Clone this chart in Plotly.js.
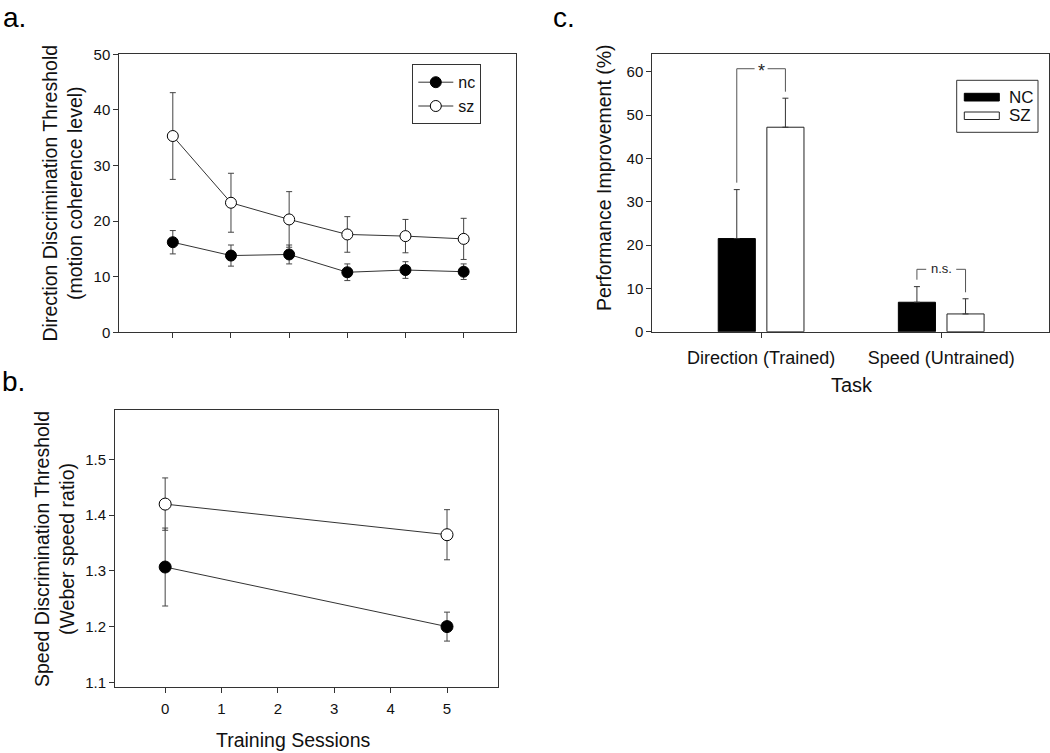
<!DOCTYPE html>
<html>
<head>
<meta charset="utf-8">
<script src="https://cdn.plot.ly/plotly-3.0.1.min.js"></script>
<style>html,body{margin:0;padding:0;background:#fff;}#chart{width:1050px;height:753px;}</style>
</head>
<body>
<div id="chart"></div>
<script>
// ---------- data ----------
const sessions = [0, 1, 2, 3, 4, 5];
const dirNC = [16.2, 13.8, 14.0, 10.8, 11.2, 10.9];
const dirNCerr = [2.1, 1.9, 1.7, 1.5, 1.5, 1.4];
const dirSZ = [35.3, 23.3, 20.3, 17.6, 17.3, 16.8];
const dirSZerr = [7.8, 5.3, 5.0, 3.2, 3.0, 3.7];

const speedSessions = [0, 5];
const speedNC = [1.307, 1.200];
const speedNCerr = [0.070, 0.026];
const speedSZ = [1.420, 1.365];
const speedSZerr = [0.047, 0.045];

const tasks = ['Direction (Trained)', 'Speed (Untrained)'];
const impNC = [21.5, 6.8];
const impNCerr = [11.3, 3.6];
const impSZ = [47.2, 4.1];
const impSZerr = [6.7, 3.5];
const sigLabels = ['*', 'n.s.'];

const groupNamesLower = ['nc', 'sz'];
const groupNamesUpper = ['NC', 'SZ'];

// ---------- helpers ----------
const W = 1050, H = 753;
const px = x => x / W;
const py = y => 1 - y / H;
const FONT = 'Liberation Sans, Arial, Helvetica, sans-serif';
const AX = '#333';

const axisBase = {
  showgrid: false, zeroline: false, showline: true, mirror: true,
  linecolor: AX, linewidth: 1, ticks: 'outside', ticklen: 5, tickwidth: 1, tickcolor: AX,
  tickfont: {family: FONT, size: 15, color: '#111'}
};

const errStyle = {color: '#444', thickness: 1, width: 3};

const traces = [];
// Panel a
traces.push({
  x: sessions, y: dirNC, name: groupNamesLower[0], type: 'scatter', mode: 'lines+markers',
  xaxis: 'x', yaxis: 'y',
  line: {color: '#333', width: 1},
  marker: {color: '#000', size: 11, line: {color: '#000', width: 1}},
  error_y: Object.assign({type: 'data', array: dirNCerr, visible: true}, errStyle)
});
traces.push({
  x: sessions, y: dirSZ, name: groupNamesLower[1], type: 'scatter', mode: 'lines+markers',
  xaxis: 'x', yaxis: 'y',
  line: {color: '#333', width: 1},
  marker: {color: '#fff', size: 11, line: {color: '#000', width: 1}},
  error_y: Object.assign({type: 'data', array: dirSZerr, visible: true}, errStyle)
});
// Panel b
traces.push({
  x: speedSessions, y: speedNC, name: groupNamesLower[0], type: 'scatter', mode: 'lines+markers',
  xaxis: 'x2', yaxis: 'y2', showlegend: false,
  line: {color: '#333', width: 1},
  marker: {color: '#000', size: 12, line: {color: '#000', width: 1}},
  error_y: Object.assign({type: 'data', array: speedNCerr, visible: true}, errStyle)
});
traces.push({
  x: speedSessions, y: speedSZ, name: groupNamesLower[1], type: 'scatter', mode: 'lines+markers',
  xaxis: 'x2', yaxis: 'y2', showlegend: false,
  line: {color: '#333', width: 1},
  marker: {color: '#fff', size: 12, line: {color: '#000', width: 1}},
  error_y: Object.assign({type: 'data', array: speedSZerr, visible: true}, errStyle)
});
// Panel c
const barW = 0.206, offNC = -0.238, offSZ = 0.032;
traces.push({
  x: tasks, y: impNC, name: groupNamesUpper[0], type: 'bar', xaxis: 'x3', yaxis: 'y3', showlegend: false,
  width: barW, offset: offNC,
  marker: {color: '#000', line: {color: '#000', width: 1}},
  error_y: {type: 'data', symmetric: false, array: impNCerr, arrayminus: impNCerr.map(() => 0), visible: true, color: '#333', thickness: 1, width: 3}
});
traces.push({
  x: tasks, y: impSZ, name: groupNamesUpper[1], type: 'bar', xaxis: 'x3', yaxis: 'y3', showlegend: false,
  width: barW, offset: offSZ,
  marker: {color: '#fff', line: {color: '#222', width: 1}},
  error_y: {type: 'data', symmetric: false, array: impSZerr, arrayminus: impSZerr.map(() => 0), visible: true, color: '#333', thickness: 1, width: 3}
});

// ---------- shapes & annotations ----------
const shapes = [];
const annotations = [];
const brColor = '#555';
const unitPerPx = 1 / 180; // category axis: ~180 px per category
tasks.forEach((t, i) => {
  const xl = i + offNC + barW / 2;
  const xr = i + offSZ + barW / 2;
  const topNC = impNC[i] + impNCerr[i];
  const topSZ = impSZ[i] + impSZerr[i];
  const big = i === 0;
  const yTop = Math.max(topNC, topSZ) + (big ? 6.8 : 4.0);
  const gap = (big ? 6.5 : 15) * unitPerPx;
  const lineSeg = (x0, y0, x1, y1) => shapes.push({type: 'line', xref: 'x3', yref: 'y3', x0, y0, x1, y1, line: {color: brColor, width: 1}});
  lineSeg(xl, topNC + 1.6, xl, yTop);
  lineSeg(xr, topSZ + 1.5, xr, yTop);
  lineSeg(xl, yTop, i - gap, yTop);
  lineSeg(i + gap, yTop, xr, yTop);
  annotations.push({xref: 'x3', yref: 'y3', x: i, y: yTop, text: sigLabels[i], showarrow: false,
    font: {family: FONT, size: big ? 18 : 13, color: '#222'}, xanchor: 'center', yanchor: 'middle', yshift: big ? -2 : 1});
});

// custom legend for panel c
shapes.push({type: 'rect', xref: 'paper', yref: 'paper', x0: px(956.7), x1: px(1038), y0: py(132.3), y1: py(80.3), line: {color: AX, width: 1}, fillcolor: '#fff'});
shapes.push({type: 'rect', xref: 'paper', yref: 'paper', x0: px(964.3), x1: px(999.3), y0: py(101), y1: py(93.3), line: {color: '#000', width: 1}, fillcolor: '#000'});
shapes.push({type: 'rect', xref: 'paper', yref: 'paper', x0: px(964.3), x1: px(999.3), y0: py(119.5), y1: py(112), line: {color: '#222', width: 1}, fillcolor: '#fff'});
annotations.push({xref: 'paper', yref: 'paper', x: px(1007), y: py(97), text: groupNamesUpper[0], showarrow: false, xanchor: 'left', yanchor: 'middle', font: {family: FONT, size: 17, color: '#111'}});
annotations.push({xref: 'paper', yref: 'paper', x: px(1007), y: py(116), text: groupNamesUpper[1], showarrow: false, xanchor: 'left', yanchor: 'middle', font: {family: FONT, size: 17, color: '#111'}});

// panel letters
const letter = (txt, x, y) => annotations.push({xref: 'paper', yref: 'paper', x: px(x), y: py(y), text: txt, showarrow: false, xanchor: 'left', yanchor: 'top', font: {family: FONT, size: 28, color: '#000'}});
letter('a.', 1, 0);
letter('b.', 0, 364);
letter('c.', 551, 0);

// axis titles
const title = (txt, x, y, angle, size) => annotations.push({xref: 'paper', yref: 'paper', x: px(x), y: py(y), text: txt, showarrow: false, xanchor: 'center', yanchor: 'middle', textangle: angle, font: {family: FONT, size: size, color: '#111'}});
title('Direction Discrimination Threshold<br>(motion coherence level)', 61.5, 193, -90, 19.5);
title('Speed Discrimination Threshold<br>(Weber speed ratio)', 54, 549, -90, 19.5);
title('Performance Improvement (%)', 604, 178, -90, 19.5);
title('Training Sessions', 293, 740, 0, 19.5);
title('Task', 851.7, 385, 0, 20);

const layout = {
  width: W, height: H,
  margin: {l: 0, r: 0, t: 0, b: 0},
  paper_bgcolor: '#fff', plot_bgcolor: '#fff',
  font: {family: FONT, color: '#111'},
  showlegend: true,
  legend: {
    x: px(412.3), y: py(64.3), xanchor: 'left', yanchor: 'top',
    bordercolor: AX, borderwidth: 1, bgcolor: '#fff',
    font: {family: FONT, size: 16, color: '#111'}, tracegroupgap: 0, itemwidth: 35
  },
  xaxis: Object.assign({}, axisBase, {domain: [px(119.3), px(516)], anchor: 'y', range: [-0.92, 5.9], tickvals: sessions, showticklabels: false}),
  yaxis: Object.assign({}, axisBase, {domain: [py(332.3), py(54.3)], anchor: 'x', range: [0, 50], dtick: 10}),
  xaxis2: Object.assign({}, axisBase, {domain: [px(115), px(498.3)], anchor: 'y2', range: [-0.89, 5.91], tickvals: sessions, ticklabelstandoff: 3}),
  yaxis2: Object.assign({}, axisBase, {domain: [py(687.3), py(410)], anchor: 'x2', range: [1.091, 1.589], tickvals: [1.1, 1.2, 1.3, 1.4, 1.5], tickformat: '.1f'}),
  xaxis3: Object.assign({}, axisBase, {domain: [px(652.3), px(1049.3)], anchor: 'y3', type: 'category', range: [-0.604, 1.6], tickfont: {family: FONT, size: 18, color: '#111'}, ticklabelstandoff: 5}),
  yaxis3: Object.assign({}, axisBase, {domain: [py(331.7), py(54)], anchor: 'x3', range: [0, 64.1], dtick: 10}),
  shapes: shapes,
  annotations: annotations
};

Plotly.newPlot('chart', traces, layout, {displayModeBar: false, staticPlot: true});
</script>
</body>
</html>
